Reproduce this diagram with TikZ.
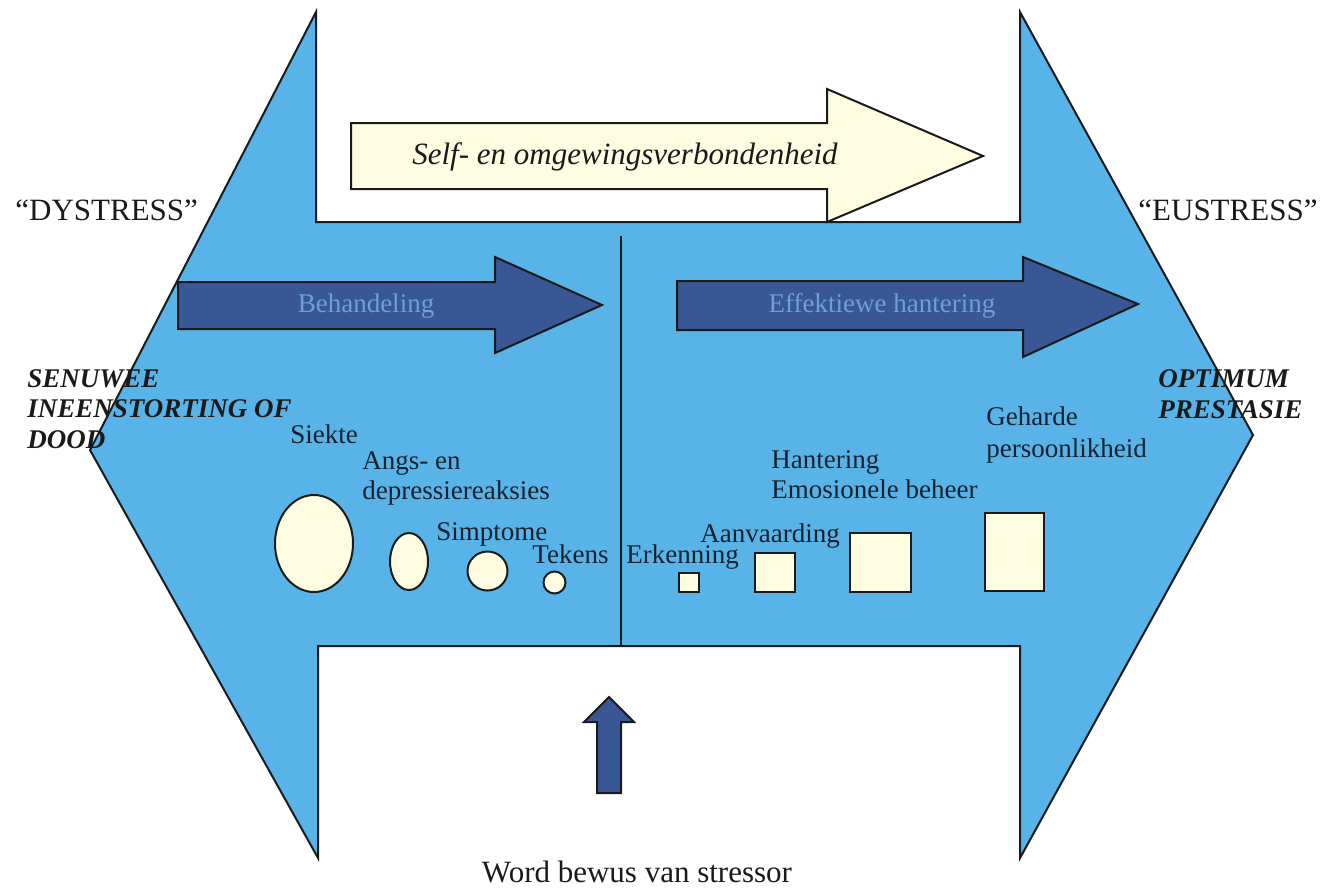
\documentclass[tikz,border=0pt]{standalone}
\usepackage{fontspec}
\setmainfont{Liberation Serif}
\definecolor{skyb}{HTML}{58B4E8}
\definecolor{navy}{HTML}{3A5795}
\definecolor{cream}{HTML}{FFFDE1}
\definecolor{ink}{HTML}{1A1A1A}
\definecolor{txt}{HTML}{14202E}
\definecolor{pale}{HTML}{6E9FD6}
\begin{document}
\begin{tikzpicture}[x=0.5pt,y=-0.5pt,line join=miter,
  outl/.style={draw=ink,line width=1pt},
  lbl/.style={inner sep=0pt,anchor=base west,text=txt,font=\fontsize{13.5}{15}\selectfont},
  bigt/.style={inner sep=0pt,anchor=base west,text=ink,font=\fontsize{15.5}{18}\selectfont},
  bi/.style={inner sep=0pt,anchor=base west,text=ink,align=left,font=\fontsize{13.5}{15.2}\selectfont\bfseries\itshape},
  intext/.style={inner sep=0pt,anchor=base,text=pale,font=\fontsize{13.5}{15}\selectfont},
  blob/.style={outl,fill=cream}]
\useasboundingbox (0,0) rectangle (1336,890);
% big double arrow
\draw[outl,fill=skyb] (316,12) -- (316,222) -- (1020,222) -- (1020,12) -- (1253,435)
  -- (1020,858) -- (1020,646) -- (318,646) -- (318,858) -- (90,450) -- cycle;
% divider
\draw[outl] (621,236) -- (621,646);
% top cream arrow
\draw[outl,fill=cream] (351,123) -- (827,123) -- (827,89) -- (983,156) -- (827,222)
  -- (827,189) -- (351,189) -- cycle;
\node[inner sep=0pt,anchor=base,text=ink,font=\fontsize{15.5}{18}\selectfont\itshape] (self) at (625,164) {Self- en omgewingsverbondenheid};
% dark arrows
\draw[outl,fill=navy] (178,282) -- (495,282) -- (495,257) -- (602,305) -- (495,353)
  -- (495,329) -- (178,329) -- cycle;
\node[intext] (beh) at (366,312) {Behandeling};
\draw[outl,fill=navy] (677,281) -- (1023,281) -- (1023,257) -- (1138,304) -- (1023,357)
  -- (1023,330) -- (677,330) -- cycle;
\node[intext] (eff) at (882,312) {Effektiewe hantering};
% up arrow
\draw[outl,fill=navy] (597,793) -- (597,722) -- (584,722) -- (609,697) -- (634,722)
  -- (621,722) -- (621,793) -- cycle;
\node[inner sep=0pt,anchor=base,text=ink,font=\fontsize{15.5}{18}\selectfont] (word) at (637,882) {Word bewus van stressor};
% side labels
\node[bigt] (dys) at (15,220) {“DYSTRESS”};
\node[bigt] (eus) at (1138,220) {“EUSTRESS”};
\node[bi] (sen) at (27,448) {SENUWEE\\INEENSTORTING OF\\DOOD};
\node[bi] (opt) at (1158,418) {OPTIMUM\\PRESTASIE};
% left shapes
\draw[blob] (314,543.5) ellipse [x radius=39,y radius=48.5];
\draw[blob] (409,561.5) ellipse [x radius=19,y radius=28.5];
\draw[blob] (487.5,571) ellipse [x radius=20,y radius=19.5];
\draw[blob] (554.5,582.5) circle [radius=11];
% right shapes
\draw[blob] (679,573) rectangle (699,592);
\draw[blob] (755,553) rectangle (795,592);
\draw[blob] (850,533) rectangle (911,592);
\draw[blob] (985,513) rectangle (1044,591);
% labels
\node[lbl] (siekte) at (290,443) {Siekte};
\node[lbl,align=left] (angs) at (362,499) {Angs- en\\depressiereaksies};
\node[lbl] (simp) at (436,540) {Simptome};
\node[lbl] (tek) at (532,563) {Tekens};
\node[lbl] (erk) at (626,563) {Erkenning};
\node[lbl] (aan) at (700,542) {Aanvaarding};
\node[lbl,align=left] (hant) at (771,498) {Hantering\\Emosionele beheer};
\node[lbl,align=left,font=\fontsize{13.5}{16}\selectfont] (geh) at (986,457) {Geharde\\persoonlikheid};
\end{tikzpicture}
\end{document}
